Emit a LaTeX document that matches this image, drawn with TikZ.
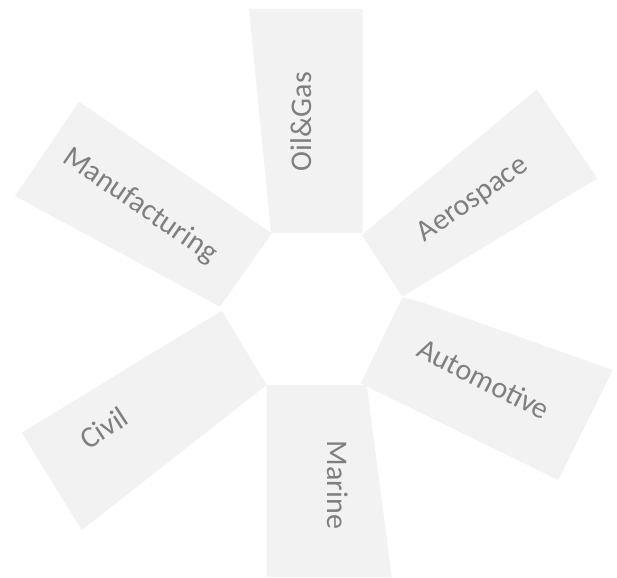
\documentclass[tikz,border=0pt]{standalone}
\usepackage{fontspec}
\setmainfont{Carlito}
\usetikzlibrary{positioning}
\definecolor{sectorgray}{HTML}{F2F2F2}
\definecolor{labelgray}{HTML}{7F7F7F}
\tikzset{
sector/.style={fill=sectorgray, draw=none},
sectorlabel/.style={text=labelgray, inner sep=0pt,
                    font=\fontsize{30}{36}\selectfont},
}
\begin{document}
\begin{tikzpicture}[x=1pt, y=-1pt]

    \useasboundingbox (0,0) rectangle (617,577);

    \fill[sector] (249,9) -- (362.7,9) -- (362.7,233) -- (271,233) -- cycle;
    \fill[sector] (361.7,235) -- (536.7,89.3) -- (597.3,178.3) -- (402.3,296.7) -- cycle;
    \fill[sector] (402.3,297.5) -- (420,301.7) -- (612.7,370) -- (558.3,480) -- (360.7,383.5) -- cycle;
    \fill[sector] (266.7,385) -- (366.7,385) -- (391.7,577) -- (266.7,577) -- cycle;
    \fill[sector] (221.7,310.7) -- (266.7,385) -- (81.7,530) -- (21.7,432.7) -- cycle;
    \fill[sector] (79,101.7) -- (271.7,233.3) -- (220,306.7) -- (15,196) -- cycle;

    \node[sectorlabel, rotate=90] (oilgas) at (301,121.5) {Oil\&Gas};
    \node[sectorlabel, rotate=35] (aero) at (473,200) {Aerospace};
    \node[sectorlabel, rotate=-27] (auto) at (484,379) {Automotive};
    \node[sectorlabel, rotate=-90] (marine) at (338,485) {Marine};
    \node[sectorlabel, rotate=33] (civil) at (104,428) {Civil};
    \node[sectorlabel, rotate=-34.5] (manu) at (140,206) {Manufacturing};

\end{tikzpicture}
\end{document}
